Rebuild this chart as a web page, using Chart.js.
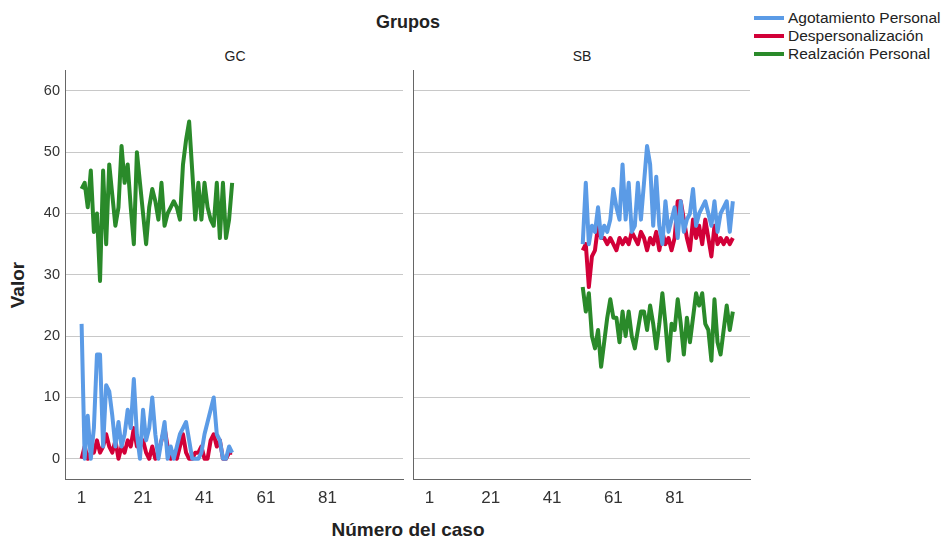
<!DOCTYPE html>
<html>
<head>
<meta charset="utf-8">
<script src="https://cdn.jsdelivr.net/npm/chart.js@4/dist/chart.umd.min.js"></script>
<style>
  body { margin: 0; background: #fff; font-family: "Liberation Sans", Arial, sans-serif; }
  #wrap { position: relative; width: 941px; height: 541px; overflow: hidden; }
  .box { position: absolute; top: 0; }
  .txt { position: absolute; color: #222; white-space: nowrap; }
  .leg { position: absolute; left: 754px; font-size: 15.5px; color: #222; line-height: 18px; }
  .leg span { display: inline-block; width: 30px; height: 4px; vertical-align: middle; margin-right: 4px; position: relative; top: -1px; }
</style>
</head>
<body>
<div id="wrap">
  <div class="txt" style="left:0;width:816px;top:12px;text-align:center;font-weight:bold;font-size:18px;">Grupos</div>
  <div class="txt" style="left:205px;width:60px;top:48px;text-align:center;font-size:14px;">GC</div>
  <div class="txt" style="left:552px;width:60px;top:48px;text-align:center;font-size:14px;">SB</div>
  <div class="txt" style="left:-32px;top:274px;width:100px;height:22px;line-height:22px;font-weight:bold;font-size:19px;transform:rotate(-90deg);transform-origin:50% 50%;text-align:center;">Valor</div>
  <div class="txt" style="left:0;width:816px;top:519px;text-align:center;font-weight:bold;font-size:19px;">Número del caso</div>
  <div class="leg" style="top:9px;"><span style="background:#5b9be6"></span>Agotamiento Personal</div>
  <div class="leg" style="top:27px;"><span style="background:#d20038"></span>Despersonalización</div>
  <div class="leg" style="top:45px;"><span style="background:#2a8a2a"></span>Realzación Personal</div>
  <div class="box" style="left:0;"><canvas id="gc" width="410" height="541"></canvas></div>
  <div class="box" style="left:405px;"><canvas id="sb" width="350" height="541"></canvas></div>
</div>
<script>
// primer caso de cada grupo
const inicioGC = 1;
const inicioSB = 51;

const xTicks = [1, 21, 41, 61, 81];
const yTicks = [0, 10, 20, 30, 40, 50, 60];

// grupo GC (casos 1-50)
const agotamientoGC = [22,0,7,0,5,17,17,2,12,11,7,2,6,2,4,8,5,13,4,0,8,3,5,10,4,0,3,6,0,2,0,2,4,5,6,3,0,0,0,1,4,6,8,10,4,3,0,0,2,1];
const despersGC = [0,2,0,1,1,3,1,2,4,2,1,3,0,2,1,3,2,5,2,2,3,1,0,2,0,1,3,5,2,0,1,0,2,4,1,0,0,1,1,2,0,0,3,4,2,3,0,0,1,1];
const realizGC = [44,45,41,47,37,40,29,47,35,48,43,38,41,51,45,48,41,35,50,45,40,35,41,44,42,39,45,38,40,41,42,41,39,48,52,55,47,39,45,39,45,41,39,38,45,36,45,36,39,45];

// grupo SB (casos 51-100)
const agotamientoSB = [35,45,35,38,37,41,36,38,37,39,44,41,39,48,39,45,37,38,45,39,45,51,48,38,46,38,35,42,37,39,41,36,42,37,39,40,44,38,40,41,42,40,38,42,37,40,41,42,37,42];
const despersSB = [34,35,28,33,34,38,36,36,35,36,35,34,36,35,36,35,37,36,35,37,36,34,36,35,37,34,37,35,36,34,36,42,42,39,36,34,39,36,38,35,39,36,33,38,35,36,35,36,35,36];
const realizSB = [28,24,27,20,18,21,15,19,23,26,23,23,19,24,20,24,20,18,21,24,24,21,25,22,18,22,27,22,16,22,21,26,22,17,23,19,23,27,25,27,22,21,16,26,19,17,21,25,21,24];

const colores = ['#5b9be6', '#d20038', '#2a8a2a'];
const nombres = ['Agotamiento Personal', 'Despersonalización', 'Realzación Personal'];

function puntos(arr, inicio) {
  return arr.map((v, i) => ({ x: inicio + i, y: v }));
}

function hacerChart(id, series, inicio, conEjeY, padRight, ancho) {
  return new Chart(document.getElementById(id), {
    type: 'line',
    data: {
      datasets: series.map((s, k) => ({
        label: nombres[k],
        data: puntos(s, inicio),
        borderColor: colores[k],
        borderWidth: 4,
        borderJoinStyle: 'round',
        pointRadius: 0,
        tension: 0,
        fill: false
      }))
    },
    options: {
      responsive: false,
      animation: false,
      layout: { padding: { top: 70, right: padRight, left: 0, bottom: 0 } },
      plugins: { legend: { display: false }, tooltip: { enabled: false } },
      scales: {
        x: {
          type: 'linear',
          min: -4.4,
          max: 105.6,
          afterBuildTicks: sc => { sc.ticks = xTicks.map(v => ({ value: v })); },
          afterFit: sc => { sc.height = 62; },
          grid: { display: false, drawTicks: false },
          border: { display: true, color: '#666', width: 1 },
          ticks: { color: '#333', font: { family: 'Liberation Sans', size: 17 }, padding: 9, maxRotation: 0 }
        },
        y: {
          min: -3.3,
          max: 63.4,
          afterBuildTicks: sc => { sc.ticks = yTicks.map(v => ({ value: v })); },
          afterFit: sc => { sc.width = ancho; },
          grid: { color: '#c8c8c8', lineWidth: 1, drawTicks: false },
          border: { display: true, color: '#666', width: 1 },
          ticks: { display: conEjeY, color: '#333', font: { family: 'Liberation Sans', size: 14.5 }, padding: 5 }
        }
      }
    }
  });
}

hacerChart('gc', [agotamientoGC, despersGC, realizGC], inicioGC, true, 7, 65);
hacerChart('sb', [agotamientoSB, despersSB, realizSB], inicioSB, false, 5, 8);
</script>
</body>
</html>
